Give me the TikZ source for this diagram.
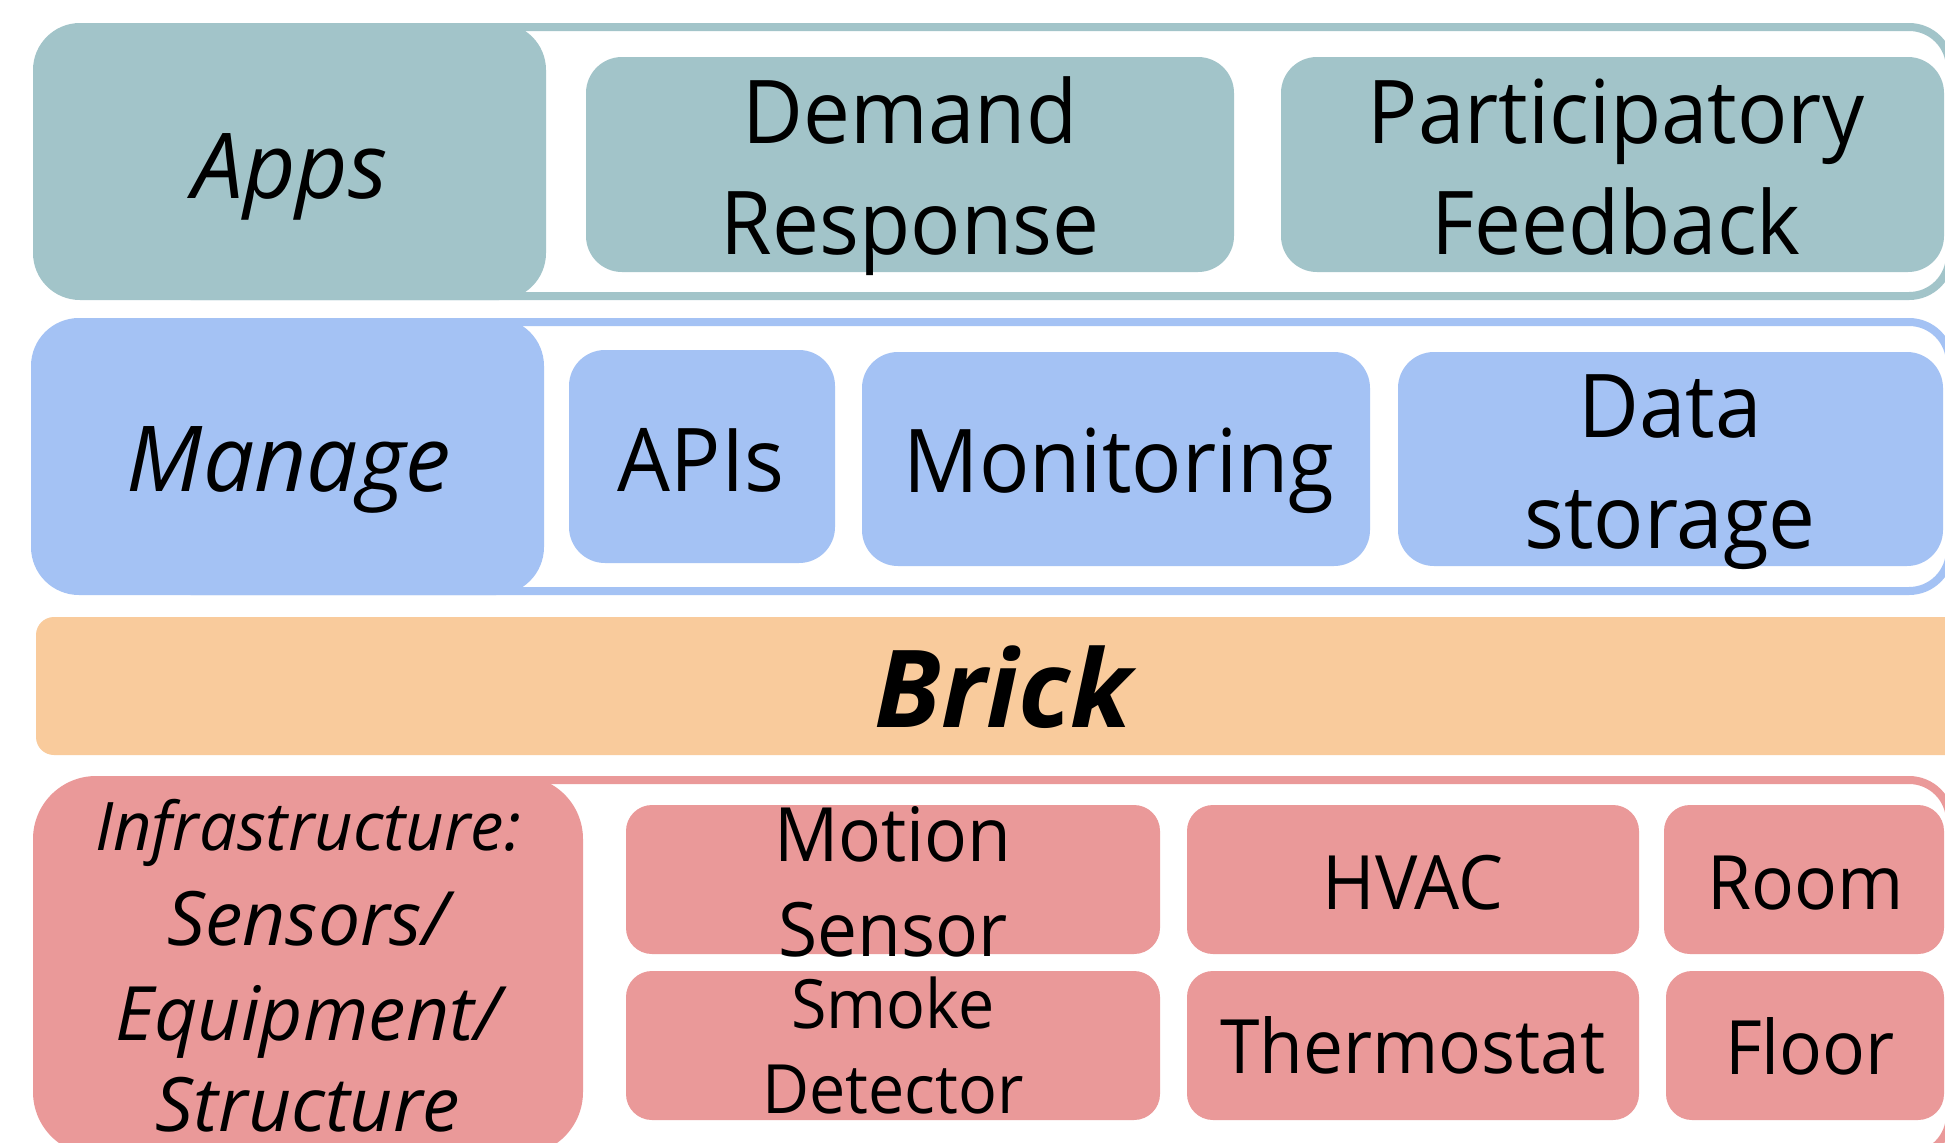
\documentclass[tikz,border=0pt]{standalone}
\usepackage{fontspec}
\setmainfont{Open Sans}[UprightFeatures={FakeStretch=0.95}]
\definecolor{tealc}{HTML}{A2C4C9}
\definecolor{bluec}{HTML}{A4C2F4}
\definecolor{orangec}{HTML}{F9CB9C}
\definecolor{redc}{HTML}{EA9999}
\begin{document}
\begin{tikzpicture}[x=0.5pt,y=-0.5pt,
  box/.style={rectangle, inner sep=0pt, outer sep=0pt, draw=none},
  frame/.style={rectangle, inner sep=0pt, outer sep=0pt, fill=white, line width=4pt, rounded corners=20.5pt},
  lbl/.style={anchor=base, inner sep=0pt, text=black},
  fbig/.style={font=\fontsize{44}{55}\selectfont},
  fhead/.style={font=\fontsize{45.5}{55}\selectfont\itshape},
  finfraA/.style={font=\fontsize{33.5}{47}\selectfont\itshape},
  finfra/.style={font=\fontsize{37.5}{47}\selectfont\itshape},
  fmid/.style={font=\fontsize{37.5}{47}\selectfont},
  fsmall/.style={font=\fontsize{34}{42}\selectfont},
  fbrick/.style={font=\fontsize{53.8}{60}\selectfont\bfseries\itshape}
]
\useasboundingbox (0,0) rectangle (1945,1142);
\fill[white] (0,0) rectangle (1945,1142);
\clip (0,0) rectangle (1945,1142);

% ---------- Apps row ----------
\node[frame, draw=tealc, minimum width=900pt, minimum height=134.5pt] (appsframe) at (1050,161.5) {};
\node[box, fill=tealc, rounded corners=23.5pt, minimum width=256.5pt, minimum height=138.5pt] (apps) at (289.5,161.5) {};
\node[box, fill=tealc, rounded corners=18pt, minimum width=324pt, minimum height=107.5pt] (dr) at (910,164.5) {};
\node[box, fill=tealc, rounded corners=18pt, minimum width=331.5pt, minimum height=107.5pt] (pf) at (1612.5,164.5) {};
\node[lbl, fhead] (appst) at (290,198) {Apps};
\node[lbl, fbig] (drt1) at (910,143) {Demand};
\node[lbl, fbig] (drt2) at (910,254) {Response};
\node[lbl, fbig] (pft1) at (1616,143) {Participatory};
\node[lbl, fbig] (pft2) at (1616,254) {Feedback};

% ---------- Manage row ----------
\node[frame, draw=bluec, minimum width=900pt, minimum height=134.5pt] (manframe) at (1050,456.5) {};
\node[box, fill=bluec, rounded corners=24pt, minimum width=256.5pt, minimum height=138.5pt] (manage) at (287.5,456.5) {};
\node[box, fill=bluec, rounded corners=18pt, minimum width=133pt, minimum height=106.5pt] (apis) at (702,456.5) {};
\node[box, fill=bluec, rounded corners=18pt, minimum width=254pt, minimum height=107pt] (mon) at (1116,459) {};
\node[box, fill=bluec, rounded corners=18pt, minimum width=272.5pt, minimum height=107pt] (ds) at (1670.5,459) {};
\node[lbl, fhead] (managet) at (289,491) {Manage};
\node[lbl, fbig] (apist) at (701,491) {APIs};
\node[lbl, fbig] (mont) at (1119,492) {Monitoring};
\node[lbl, fbig] (dst1) at (1670,437) {Data};
\node[lbl, fbig] (dst2) at (1670,548) {storage};

% ---------- Brick ----------
\node[box, fill=orangec, rounded corners=9pt, minimum width=964.5pt, minimum height=69pt] (brick) at (1000.5,686) {};
\node[lbl, fbrick] (brickt) at (1003,727) {Brick};

% ---------- Infrastructure row ----------
\node[frame, draw=redc, minimum width=900pt, minimum height=188pt] (infframe) at (1050,968) {};
\node[box, fill=redc, rounded corners=31.5pt, minimum width=275pt, minimum height=189.5pt] (infra) at (308,965.5) {};
\node[box, fill=redc, rounded corners=13pt, minimum width=267pt, minimum height=74.5pt] (motion) at (893,879.5) {};
\node[box, fill=redc, rounded corners=13pt, minimum width=267pt, minimum height=74.5pt] (smoke) at (893,1045.5) {};
\node[box, fill=redc, rounded corners=13pt, minimum width=226pt, minimum height=74.5pt] (hvac) at (1413,879.5) {};
\node[box, fill=redc, rounded corners=13pt, minimum width=140pt, minimum height=74.5pt] (room) at (1804,879.5) {};
\node[box, fill=redc, rounded corners=13pt, minimum width=226pt, minimum height=74.5pt] (thermo) at (1413,1045.5) {};
\node[box, fill=redc, rounded corners=13pt, minimum width=139pt, minimum height=74.5pt] (floor) at (1805,1045.5) {};

\node[lbl, finfraA] (inft1) at (308,850) {Infrastructure:};
\node[lbl, finfra] (inft2) at (308,945) {Sensors/};
\node[lbl, finfra] (inft3) at (308,1040) {Equipment/};
\node[lbl, finfra] (inft4) at (308,1131) {Structure};
\node[lbl, fmid] (motiont1) at (893,861) {Motion};
\node[lbl, fmid] (motiont2) at (893,956) {Sensor};
\node[lbl, fsmall] (smoket1) at (893,1028) {Smoke};
\node[lbl, fsmall] (smoket2) at (893,1113) {Detector};
\node[lbl, fmid] (hvact) at (1413,909) {HVAC};
\node[lbl, fmid] (roomt) at (1806,909) {Room};
\node[lbl, fmid] (thermot) at (1413,1073) {Thermostat};
\node[lbl, fmid] (floort) at (1810,1074) {Floor};
\end{tikzpicture}
\end{document}
